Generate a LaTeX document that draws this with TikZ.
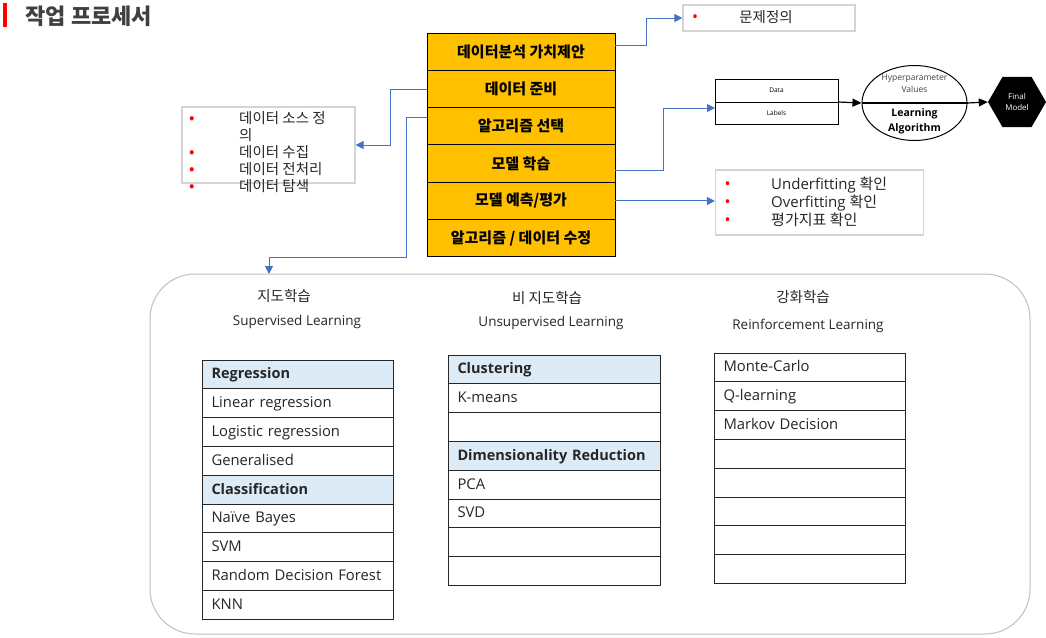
\documentclass[tikz,border=0pt]{standalone}
\usepackage{fontspec}
\setmainfont{Open Sans}
\newfontfamily\kr{Noto Sans CJK KR}
\usetikzlibrary{positioning,arrows.meta,shapes.geometric}
\definecolor{gold}{HTML}{FFC000}
\definecolor{flow}{HTML}{4472C4}
\definecolor{frame}{HTML}{BFBFBF}
\definecolor{soft}{HTML}{D4D4D4}
\definecolor{head}{HTML}{DDEBF7}
\definecolor{ink}{HTML}{262626}
\definecolor{titlegray}{HTML}{404040}
\definecolor{dot}{HTML}{FF0000}
\newcommand{\sz}[2]{\fontsize{#1}{#2}\selectfont}
\newcommand{\bul}{\textcolor{dot}{\sz{16}{16}•}}

\begin{document}
\begin{tikzpicture}[
  x=1pt,y=-1pt,
  stage/.style={draw=black,fill=gold,line width=1pt,minimum width=188pt,
                minimum height=37.33pt,outer sep=0pt,font=\kr\bfseries\sz{15}{17}},
  note/.style={draw=soft,line width=1.2pt,fill=white},
  cell/.style={draw=ink,line width=0.9pt,fill=white,minimum height=28.8pt,
               text width=173pt,inner xsep=9pt,align=left,outer sep=0pt,
               text height=11.5pt,text depth=2.5pt,font=\sz{14.8}{16},text=ink},
  hcell/.style={cell,fill=head,font=\bfseries\sz{14.5}{16}},
  hd/.style={font=\kr\sz{14.5}{16},text=ink},
  sub/.style={font=\sz{13.5}{16},text=ink},
  ar/.style={-{Triangle[length=8pt,width=8pt]},draw=flow,line width=1pt},
  blk/.style={-{Triangle[length=9pt,width=8pt]},draw=black,line width=1.2pt}
]
\useasboundingbox (0,0) rectangle (1046,637);

% title
\node[fill=dot,minimum width=4.5pt,minimum height=24pt,inner sep=0pt] (bar) at (5,15) {};
\node[anchor=west,font=\kr\bfseries\sz{22}{25},text=titlegray] (title) at (22,16) {작업 프로세서};

% process stack
\node[stage] (val) at (521,51.67) {데이터분석 가치제안};
\node[stage,below=0pt of val] (prep) {데이터 준비};
\node[stage,below=0pt of prep] (algo) {알고리즘 선택};
\node[stage,below=0pt of algo] (train) {모델 학습};
\node[stage,below=0pt of train] (eval) {모델 예측/평가};
\node[stage,below=0pt of eval] (fix) {알고리즘 / 데이터 수정};

% notes
\node[note,minimum width=172pt,minimum height=26pt] (prob) at (769,18) {};
\node[inner sep=0pt] (probdot) at (695,19) {\bul};
\node[font=\kr\sz{14.5}{16},text=ink] (probtxt) at (766,17) {문제정의};

\node[note,minimum width=173pt,minimum height=76pt] (src) at (268.5,145) {};
\node[anchor=north west,inner sep=0pt,font=\kr\sz{14.5}{17},text=ink] (srctxt) at (189,111)
  {\begin{tabular}{@{}p{50pt}@{}l@{}}
   \bul & 데이터 소스 정\\
        & 의\\
   \bul & 데이터 수집\\
   \bul & 데이터 전처리\\
   \bul & 데이터 탐색
   \end{tabular}};

\node[note,minimum width=208pt,minimum height=65pt] (chk) at (819.5,202.5) {};
\node[anchor=north west,inner sep=0pt,font=\sz{15}{18},text=ink] (chktxt) at (724.5,177)
  {\begin{tabular}{@{}p{46.5pt}@{}l@{}}
   \bul & Underfitting {\kr 확인}\\
   \bul & Overfitting {\kr 확인}\\
   \bul & {\kr 평가지표 확인}
   \end{tabular}};

% learning pipeline
\node[draw=black,line width=1pt,minimum width=123pt,minimum height=23pt,outer sep=0pt,
      font=\sz{6.5}{7}] (data) at (776.5,90.5) {Data};
\node[draw=black,line width=1pt,minimum width=123pt,minimum height=22pt,outer sep=0pt,
      font=\sz{6.5}{7},below=0pt of data] (labels) {Labels};
\node[ellipse,draw=black,line width=1pt,minimum width=105pt,minimum height=75pt] (learner) at (914.5,103) {};
\node[align=center,font=\sz{8.5}{12},text=titlegray] (hyper) at (914.5,83.5) {Hyperparameter\\Values};
\node[align=center,font=\bfseries\sz{10.5}{15}] (lalg) at (914.5,121.5) {Learning\\Algorithm};
\node[regular polygon,regular polygon sides=6,fill=black,minimum size=58pt,inner sep=0pt,
      align=center,text=white,font=\sz{8}{11}] (final) at (1017,102) {Final\\Model};

\draw[blk] (labels.north east) -- (learner.west);
\draw[black,line width=1.2pt] (learner.west) -- (learner.east);
\draw[blk] (learner.east) -- (final.west);

% learning families
\node[draw=frame,line width=1pt,rounded corners=45pt,minimum width=880pt,minimum height=360pt] (family) at (590,454) {};
\coordinate (supin) at (269,274);

\node[hd] (suphd) at (284,296) {지도학습};
\node[sub] (supen) at (297,322) {Supervised Learning};
\node[hd] (unshd) at (547,298) {비 지도학습};
\node[sub] (unsen) at (551,323) {Unsupervised Learning};
\node[hd] (rlhd) at (803,297) {강화학습};
\node[sub] (rlen) at (808,326) {Reinforcement Learning};

\node[hcell] (s1) at (298,374.4) {Regression};
\node[cell,below=0pt of s1] (s2) {Linear regression};
\node[cell,below=0pt of s2] (s3) {Logistic regression};
\node[cell,below=0pt of s3] (s4) {Generalised};
\node[hcell,below=0pt of s4] (s5) {Classification};
\node[cell,below=0pt of s5] (s6) {Naïve Bayes};
\node[cell,below=0pt of s6] (s7) {SVM};
\node[cell,below=0pt of s7] (s8) {Random Decision Forest};
\node[cell,below=0pt of s8] (s9) {KNN};

\node[hcell,text width=194pt] (u1) at (554.5,369.4) {Clustering};
\node[cell,text width=194pt,below=0pt of u1] (u2) {K-means};
\node[cell,text width=194pt,below=0pt of u2] (u3) {};
\node[hcell,text width=194pt,below=0pt of u3] (u4) {\mbox{Dimensionality Reduction}};
\node[cell,text width=194pt,below=0pt of u4] (u5) {PCA};
\node[cell,text width=194pt,below=0pt of u5] (u6) {SVD};
\node[cell,text width=194pt,below=0pt of u6] (u7) {};
\node[cell,text width=194pt,below=0pt of u7] (u8) {};

\node[cell] (r1) at (810,367.4) {Monte-Carlo};
\node[cell,below=0pt of r1] (r2) {Q-learning};
\node[cell,below=0pt of r2] (r3) {Markov Decision};
\node[cell,below=0pt of r3] (r4) {};
\node[cell,below=0pt of r4] (r5) {};
\node[cell,below=0pt of r5] (r6) {};
\node[cell,below=0pt of r6] (r7) {};
\node[cell,below=0pt of r7] (r8) {};

% connectors
\draw[ar] ([yshift=6.5pt]val.east) -- ++(31,0) |- (prob.west);
\draw[ar] (prep.west) -- ++(-37,0) |- (src.east);
\draw[ar] ([yshift=9pt]algo.west) -| ++(-21,140) -| (supin);
\draw[ar] ([yshift=-6.5pt]train.east) -- ++(48,0) |- ([yshift=5pt]labels.west);
\draw[ar] (eval.east) -- (eval.east -| chk.west);
\end{tikzpicture}
\end{document}
